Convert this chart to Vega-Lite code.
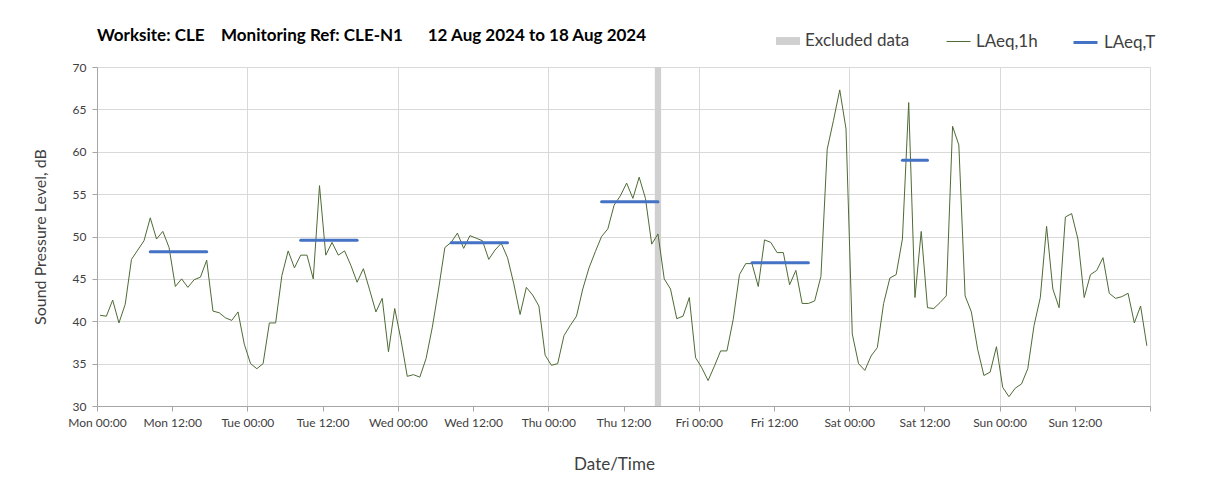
{
  "$schema": "https://vega.github.io/schema/vega-lite/v6.json",
  "width": 1053,
  "height": 339,
  "autosize": {"type": "none"},
  "padding": {"left": 97, "top": 67, "right": 58, "bottom": 95},
  "background": "white",
  "title": {
    "text": "Worksite: CLE\u00a0\u00a0\u00a0\u00a0Monitoring Ref: CLE-N1\u00a0\u00a0\u00a0\u00a0\u00a0\u00a012 Aug 2024 to 18 Aug 2024",
    "anchor": "start",
    "frame": "group",
    "font": "Lato",
    "fontSize": 17,
    "fontWeight": "bold",
    "color": "#000000",
    "offset": 20,
    "dy": 36
  },
  "config": {
    "font": "Lato",
    "view": {"stroke": null},
    "axis": {
      "labelColor": "#404040",
      "titleColor": "#404040",
      "titleFontWeight": "normal",
      "titleFontSize": 16,
      "labelFontSize": 12,
      "tickSize": 5,
      "tickColor": "#a6a6a6",
      "domainColor": "#a6a6a6",
      "gridColor": "#d9d9d9",
      "labelPadding": 6
    },
    "legend": {
      "orient": "none",
      "direction": "horizontal",
      "title": null,
      "labelFontSize": 17,
      "labelColor": "#404040",
      "labelOffset": 5,
      "symbolSize": 576,
      "symbolOpacity": 1
    }
  },
  "resolve": {"scale": {"color": "independent"}},
  "datasets": {
    "excluded": [
      {"start": "2024-08-15T17:00:00Z", "end": "2024-08-15T18:00:00Z"}
    ],
    "laeqT": [
      {"period": "Mon", "t": "2024-08-12T08:30:00Z", "v": 48.2},
      {"period": "Mon", "t": "2024-08-12T17:30:00Z", "v": 48.2},
      {"period": "Tue", "t": "2024-08-13T08:30:00Z", "v": 49.55},
      {"period": "Tue", "t": "2024-08-13T17:30:00Z", "v": 49.55},
      {"period": "Wed", "t": "2024-08-14T08:30:00Z", "v": 49.25},
      {"period": "Wed", "t": "2024-08-14T17:30:00Z", "v": 49.25},
      {"period": "Thu", "t": "2024-08-15T08:30:00Z", "v": 54.1},
      {"period": "Thu", "t": "2024-08-15T17:30:00Z", "v": 54.1},
      {"period": "Fri", "t": "2024-08-16T08:30:00Z", "v": 46.9},
      {"period": "Fri", "t": "2024-08-16T17:30:00Z", "v": 46.9},
      {"period": "Sat", "t": "2024-08-17T08:30:00Z", "v": 59.0},
      {"period": "Sat", "t": "2024-08-17T12:30:00Z", "v": 59.0}
    ],
    "hourly": [
      {"t": "2024-08-12T00:30:00Z", "v": 40.7},
      {"t": "2024-08-12T01:30:00Z", "v": 40.6},
      {"t": "2024-08-12T02:30:00Z", "v": 42.5},
      {"t": "2024-08-12T03:30:00Z", "v": 39.8},
      {"t": "2024-08-12T04:30:00Z", "v": 42.0},
      {"t": "2024-08-12T05:30:00Z", "v": 47.3},
      {"t": "2024-08-12T06:30:00Z", "v": 48.4},
      {"t": "2024-08-12T07:30:00Z", "v": 49.5},
      {"t": "2024-08-12T08:30:00Z", "v": 52.2},
      {"t": "2024-08-12T09:30:00Z", "v": 49.7},
      {"t": "2024-08-12T10:30:00Z", "v": 50.6},
      {"t": "2024-08-12T11:30:00Z", "v": 48.7},
      {"t": "2024-08-12T12:30:00Z", "v": 44.1},
      {"t": "2024-08-12T13:30:00Z", "v": 45.0},
      {"t": "2024-08-12T14:30:00Z", "v": 44.0},
      {"t": "2024-08-12T15:30:00Z", "v": 44.9},
      {"t": "2024-08-12T16:30:00Z", "v": 45.2},
      {"t": "2024-08-12T17:30:00Z", "v": 47.2},
      {"t": "2024-08-12T18:30:00Z", "v": 41.2},
      {"t": "2024-08-12T19:30:00Z", "v": 41.0},
      {"t": "2024-08-12T20:30:00Z", "v": 40.4},
      {"t": "2024-08-12T21:30:00Z", "v": 40.1},
      {"t": "2024-08-12T22:30:00Z", "v": 41.1},
      {"t": "2024-08-12T23:30:00Z", "v": 37.3},
      {"t": "2024-08-13T00:30:00Z", "v": 35.0},
      {"t": "2024-08-13T01:30:00Z", "v": 34.4},
      {"t": "2024-08-13T02:30:00Z", "v": 35.0},
      {"t": "2024-08-13T03:30:00Z", "v": 39.8},
      {"t": "2024-08-13T04:30:00Z", "v": 39.8},
      {"t": "2024-08-13T05:30:00Z", "v": 45.4},
      {"t": "2024-08-13T06:30:00Z", "v": 48.3},
      {"t": "2024-08-13T07:30:00Z", "v": 46.3},
      {"t": "2024-08-13T08:30:00Z", "v": 47.8},
      {"t": "2024-08-13T09:30:00Z", "v": 47.8},
      {"t": "2024-08-13T10:30:00Z", "v": 45.0},
      {"t": "2024-08-13T11:30:00Z", "v": 56.0},
      {"t": "2024-08-13T12:30:00Z", "v": 47.8},
      {"t": "2024-08-13T13:30:00Z", "v": 49.3},
      {"t": "2024-08-13T14:30:00Z", "v": 47.8},
      {"t": "2024-08-13T15:30:00Z", "v": 48.3},
      {"t": "2024-08-13T16:30:00Z", "v": 46.6},
      {"t": "2024-08-13T17:30:00Z", "v": 44.6},
      {"t": "2024-08-13T18:30:00Z", "v": 46.2},
      {"t": "2024-08-13T19:30:00Z", "v": 43.7},
      {"t": "2024-08-13T20:30:00Z", "v": 41.1},
      {"t": "2024-08-13T21:30:00Z", "v": 42.7},
      {"t": "2024-08-13T22:30:00Z", "v": 36.4},
      {"t": "2024-08-13T23:30:00Z", "v": 41.5},
      {"t": "2024-08-14T00:30:00Z", "v": 37.8},
      {"t": "2024-08-14T01:30:00Z", "v": 33.5},
      {"t": "2024-08-14T02:30:00Z", "v": 33.7},
      {"t": "2024-08-14T03:30:00Z", "v": 33.4},
      {"t": "2024-08-14T04:30:00Z", "v": 35.6},
      {"t": "2024-08-14T05:30:00Z", "v": 39.3},
      {"t": "2024-08-14T06:30:00Z", "v": 43.8},
      {"t": "2024-08-14T07:30:00Z", "v": 48.7},
      {"t": "2024-08-14T08:30:00Z", "v": 49.3},
      {"t": "2024-08-14T09:30:00Z", "v": 50.4},
      {"t": "2024-08-14T10:30:00Z", "v": 48.6},
      {"t": "2024-08-14T11:30:00Z", "v": 50.1},
      {"t": "2024-08-14T12:30:00Z", "v": 49.8},
      {"t": "2024-08-14T13:30:00Z", "v": 49.5},
      {"t": "2024-08-14T14:30:00Z", "v": 47.3},
      {"t": "2024-08-14T15:30:00Z", "v": 48.4},
      {"t": "2024-08-14T16:30:00Z", "v": 49.2},
      {"t": "2024-08-14T17:30:00Z", "v": 47.5},
      {"t": "2024-08-14T18:30:00Z", "v": 44.4},
      {"t": "2024-08-14T19:30:00Z", "v": 40.8},
      {"t": "2024-08-14T20:30:00Z", "v": 44.0},
      {"t": "2024-08-14T21:30:00Z", "v": 43.1},
      {"t": "2024-08-14T22:30:00Z", "v": 41.8},
      {"t": "2024-08-14T23:30:00Z", "v": 36.0},
      {"t": "2024-08-15T00:30:00Z", "v": 34.8},
      {"t": "2024-08-15T01:30:00Z", "v": 35.0},
      {"t": "2024-08-15T02:30:00Z", "v": 38.3},
      {"t": "2024-08-15T03:30:00Z", "v": 39.5},
      {"t": "2024-08-15T04:30:00Z", "v": 40.6},
      {"t": "2024-08-15T05:30:00Z", "v": 43.8},
      {"t": "2024-08-15T06:30:00Z", "v": 46.3},
      {"t": "2024-08-15T07:30:00Z", "v": 48.2},
      {"t": "2024-08-15T08:30:00Z", "v": 50.0},
      {"t": "2024-08-15T09:30:00Z", "v": 50.9},
      {"t": "2024-08-15T10:30:00Z", "v": 53.7},
      {"t": "2024-08-15T11:30:00Z", "v": 54.8},
      {"t": "2024-08-15T12:30:00Z", "v": 56.3},
      {"t": "2024-08-15T13:30:00Z", "v": 54.5},
      {"t": "2024-08-15T14:30:00Z", "v": 57.0},
      {"t": "2024-08-15T15:30:00Z", "v": 54.5},
      {"t": "2024-08-15T16:30:00Z", "v": 49.1},
      {"t": "2024-08-15T17:30:00Z", "v": 50.3},
      {"t": "2024-08-15T18:30:00Z", "v": 45.0},
      {"t": "2024-08-15T19:30:00Z", "v": 43.8},
      {"t": "2024-08-15T20:30:00Z", "v": 40.3},
      {"t": "2024-08-15T21:30:00Z", "v": 40.6},
      {"t": "2024-08-15T22:30:00Z", "v": 42.8},
      {"t": "2024-08-15T23:30:00Z", "v": 35.7},
      {"t": "2024-08-16T00:30:00Z", "v": 34.5},
      {"t": "2024-08-16T01:30:00Z", "v": 33.0},
      {"t": "2024-08-16T02:30:00Z", "v": 34.7},
      {"t": "2024-08-16T03:30:00Z", "v": 36.5},
      {"t": "2024-08-16T04:30:00Z", "v": 36.5},
      {"t": "2024-08-16T05:30:00Z", "v": 40.2},
      {"t": "2024-08-16T06:30:00Z", "v": 45.5},
      {"t": "2024-08-16T07:30:00Z", "v": 46.8},
      {"t": "2024-08-16T08:30:00Z", "v": 46.8},
      {"t": "2024-08-16T09:30:00Z", "v": 44.1},
      {"t": "2024-08-16T10:30:00Z", "v": 49.6},
      {"t": "2024-08-16T11:30:00Z", "v": 49.3},
      {"t": "2024-08-16T12:30:00Z", "v": 48.1},
      {"t": "2024-08-16T13:30:00Z", "v": 48.1},
      {"t": "2024-08-16T14:30:00Z", "v": 44.3},
      {"t": "2024-08-16T15:30:00Z", "v": 46.0},
      {"t": "2024-08-16T16:30:00Z", "v": 42.1},
      {"t": "2024-08-16T17:30:00Z", "v": 42.1},
      {"t": "2024-08-16T18:30:00Z", "v": 42.4},
      {"t": "2024-08-16T19:30:00Z", "v": 45.3},
      {"t": "2024-08-16T20:30:00Z", "v": 60.3},
      {"t": "2024-08-16T21:30:00Z", "v": 63.7},
      {"t": "2024-08-16T22:30:00Z", "v": 67.3},
      {"t": "2024-08-16T23:30:00Z", "v": 62.7},
      {"t": "2024-08-17T00:30:00Z", "v": 38.5},
      {"t": "2024-08-17T01:30:00Z", "v": 35.0},
      {"t": "2024-08-17T02:30:00Z", "v": 34.2},
      {"t": "2024-08-17T03:30:00Z", "v": 35.9},
      {"t": "2024-08-17T04:30:00Z", "v": 36.9},
      {"t": "2024-08-17T05:30:00Z", "v": 42.1},
      {"t": "2024-08-17T06:30:00Z", "v": 45.1},
      {"t": "2024-08-17T07:30:00Z", "v": 45.5},
      {"t": "2024-08-17T08:30:00Z", "v": 49.7},
      {"t": "2024-08-17T09:30:00Z", "v": 65.8},
      {"t": "2024-08-17T10:30:00Z", "v": 42.8},
      {"t": "2024-08-17T11:30:00Z", "v": 50.6},
      {"t": "2024-08-17T12:30:00Z", "v": 41.6},
      {"t": "2024-08-17T13:30:00Z", "v": 41.5},
      {"t": "2024-08-17T14:30:00Z", "v": 42.2},
      {"t": "2024-08-17T15:30:00Z", "v": 43.0},
      {"t": "2024-08-17T16:30:00Z", "v": 63.0},
      {"t": "2024-08-17T17:30:00Z", "v": 60.8},
      {"t": "2024-08-17T18:30:00Z", "v": 43.0},
      {"t": "2024-08-17T19:30:00Z", "v": 41.1},
      {"t": "2024-08-17T20:30:00Z", "v": 36.7},
      {"t": "2024-08-17T21:30:00Z", "v": 33.6},
      {"t": "2024-08-17T22:30:00Z", "v": 34.0},
      {"t": "2024-08-17T23:30:00Z", "v": 37.0},
      {"t": "2024-08-18T00:30:00Z", "v": 32.2},
      {"t": "2024-08-18T01:30:00Z", "v": 31.1},
      {"t": "2024-08-18T02:30:00Z", "v": 32.1},
      {"t": "2024-08-18T03:30:00Z", "v": 32.6},
      {"t": "2024-08-18T04:30:00Z", "v": 34.4},
      {"t": "2024-08-18T05:30:00Z", "v": 39.5},
      {"t": "2024-08-18T06:30:00Z", "v": 42.8},
      {"t": "2024-08-18T07:30:00Z", "v": 51.2},
      {"t": "2024-08-18T08:30:00Z", "v": 43.8},
      {"t": "2024-08-18T09:30:00Z", "v": 41.6},
      {"t": "2024-08-18T10:30:00Z", "v": 52.3},
      {"t": "2024-08-18T11:30:00Z", "v": 52.7},
      {"t": "2024-08-18T12:30:00Z", "v": 49.7},
      {"t": "2024-08-18T13:30:00Z", "v": 42.8},
      {"t": "2024-08-18T14:30:00Z", "v": 45.5},
      {"t": "2024-08-18T15:30:00Z", "v": 46.0},
      {"t": "2024-08-18T16:30:00Z", "v": 47.5},
      {"t": "2024-08-18T17:30:00Z", "v": 43.3},
      {"t": "2024-08-18T18:30:00Z", "v": 42.7},
      {"t": "2024-08-18T19:30:00Z", "v": 42.9},
      {"t": "2024-08-18T20:30:00Z", "v": 43.3},
      {"t": "2024-08-18T21:30:00Z", "v": 39.8},
      {"t": "2024-08-18T22:30:00Z", "v": 41.8},
      {"t": "2024-08-18T23:30:00Z", "v": 37.1}
    ]
  },
  "layer": [
    {
      "data": {"name": "excluded"},
      "mark": {"type": "rect", "opacity": 1},
      "encoding": {
        "x": {
          "field": "start",
          "type": "temporal",
          "title": "Date/Time",
          "scale": {
            "type": "utc",
            "domain": [
              {"year": 2024, "month": 8, "date": 12, "hours": 0, "utc": true},
              {"year": 2024, "month": 8, "date": 19, "hours": 0, "utc": true}
            ]
          },
          "axis": {
            "values": [
              {"year": 2024, "month": 8, "date": 12, "hours": 0, "utc": true},
              {"year": 2024, "month": 8, "date": 12, "hours": 12, "utc": true},
              {"year": 2024, "month": 8, "date": 13, "hours": 0, "utc": true},
              {"year": 2024, "month": 8, "date": 13, "hours": 12, "utc": true},
              {"year": 2024, "month": 8, "date": 14, "hours": 0, "utc": true},
              {"year": 2024, "month": 8, "date": 14, "hours": 12, "utc": true},
              {"year": 2024, "month": 8, "date": 15, "hours": 0, "utc": true},
              {"year": 2024, "month": 8, "date": 15, "hours": 12, "utc": true},
              {"year": 2024, "month": 8, "date": 16, "hours": 0, "utc": true},
              {"year": 2024, "month": 8, "date": 16, "hours": 12, "utc": true},
              {"year": 2024, "month": 8, "date": 17, "hours": 0, "utc": true},
              {"year": 2024, "month": 8, "date": 17, "hours": 12, "utc": true},
              {"year": 2024, "month": 8, "date": 18, "hours": 0, "utc": true},
              {"year": 2024, "month": 8, "date": 18, "hours": 12, "utc": true},
              {"year": 2024, "month": 8, "date": 19, "hours": 0, "utc": true}
            ],
            "labelExpr": "utcdate(datum.value) == 19 ? '' : utcFormat(datum.value, '%a %H:%M')",
            "grid": true,
            "gridOpacity": {"condition": {"test": "utchours(datum.value) == 12", "value": 0}, "value": 1},
            "labelFlush": false,
            "labelOverlap": false,
            "titlePadding": 28,
            "titleFontSize": 17,
            "titleX": 517
          }
        },
        "x2": {"field": "end"},
        "color": {
          "datum": "Excluded data",
          "type": "nominal",
          "scale": {"domain": ["Excluded data"], "range": ["#d0d0d0"]},
          "legend": {
            "legendX": 679,
            "legendY": -38,
            "symbolType": "M-1,-0.33H1V0.33H-1Z",
            "symbolStrokeWidth": 0
          }
        }
      }
    },
    {
      "data": {"name": "hourly"},
      "mark": {"type": "line", "strokeWidth": 1, "interpolate": "linear"},
      "encoding": {
        "x": {"field": "t", "type": "temporal", "title": "Date/Time"},
        "y": {
          "field": "v",
          "type": "quantitative",
          "title": "Sound Pressure Level, dB",
          "scale": {"domain": [30, 70], "nice": false, "zero": false},
          "axis": {
            "values": [30, 35, 40, 45, 50, 55, 60, 65, 70],
            "grid": true,
            "titlePadding": 24
          }
        },
        "color": {
          "datum": "LAeq,1h",
          "type": "nominal",
          "scale": {"domain": ["LAeq,1h"], "range": ["#4e6b35"]},
          "legend": {
            "legendX": 849,
            "legendY": -38,
            "symbolType": "stroke",
            "symbolStrokeWidth": 1
          }
        }
      }
    },
    {
      "data": {"name": "laeqT"},
      "mark": {"type": "line", "strokeWidth": 3, "strokeCap": "round"},
      "encoding": {
        "x": {"field": "t", "type": "temporal", "title": "Date/Time"},
        "y": {"field": "v", "type": "quantitative", "title": "Sound Pressure Level, dB"},
        "detail": {"field": "period", "type": "nominal"},
        "color": {
          "datum": "LAeq,T",
          "type": "nominal",
          "scale": {"domain": ["LAeq,T"], "range": ["#4472c4"]},
          "legend": {
            "legendX": 975,
            "legendY": -38,
            "symbolType": "stroke",
            "symbolStrokeWidth": 3
          }
        }
      }
    }
  ]
}
